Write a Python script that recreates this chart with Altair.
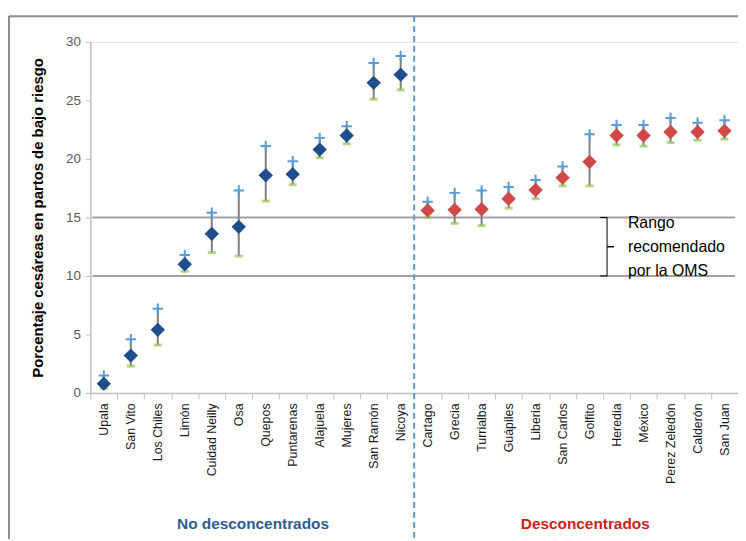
import altair as alt
import pandas as pd

cats_no = ["Upala", "San Vito", "Los Chiles", "Limón", "Cuidad Neilly", "Osa",
           "Quepos", "Puntarenas", "Alajuela", "Mujeres", "San Ramón", "Nicoya"]
val_no = [0.8, 3.2, 5.4, 11.0, 13.6, 14.2, 18.6, 18.7, 20.8, 22.0, 26.5, 27.2]
hi_no = [1.5, 4.6, 7.2, 11.8, 15.4, 17.3, 21.1, 19.8, 21.8, 22.8, 28.2, 28.8]
lo_no = [0.4, 2.3, 4.1, 10.4, 12.0, 11.7, 16.4, 17.8, 20.1, 21.3, 25.1, 25.9]

cats_de = ["Cartago", "Grecia", "Turrialba", "Guápiles", "Liberia", "San Carlos",
           "Golfito", "Heredia", "México", "Perez Zeledón", "Calderón", "San Juan"]
val_de = [15.6, 15.65, 15.7, 16.6, 17.35, 18.4, 19.75, 22.0, 22.0, 22.3, 22.3, 22.4]
hi_de = [16.35, 17.1, 17.3, 17.6, 18.2, 19.35, 22.1, 22.9, 22.9, 23.5, 23.1, 23.3]
lo_de = [15.0, 14.5, 14.3, 15.8, 16.6, 17.7, 17.7, 21.2, 21.1, 21.4, 21.6, 21.7]

group_names = ["No desconcentrados", "Desconcentrados"]
oms_range = [10, 15]
oms_text = ["Rango", "recomendado", "por la OMS"]

cats = cats_no + cats_de
df = pd.DataFrame({
    "cat": cats,
    "val": val_no + val_de,
    "hi": hi_no + hi_de,
    "lo": lo_no + lo_de,
    "grp": [group_names[0]] * len(cats_no) + [group_names[1]] * len(cats_de),
})

FONT = "Liberation Sans"
W, H = 653, 354
LEFT, TOP = 83, 32

x_enc = alt.X("cat:N", sort=cats, title=None,
              scale=alt.Scale(paddingInner=0, paddingOuter=0),
              axis=alt.Axis(labelAngle=-90, labelFontSize=12.5, labelColor="#1a1a1a",
                            labelFont=FONT, tickBand="extent", tickSize=6,
                            tickColor="#bfbfbf", domainColor="#bfbfbf", domainWidth=1.5,
                            labelPadding=4, grid=False))
y_scale = alt.Scale(domain=[0, 30], nice=False)
y_enc = alt.Y("val:Q", scale=y_scale,
              title="Porcentaje cesáreas en partos de bajo riesgo",
              axis=alt.Axis(values=[0, 5, 10, 15, 20, 25, 30], labelFontSize=13.5,
                            labelColor="#595959", labelFont=FONT, tickSize=5,
                            tickColor="#bfbfbf", domainColor="#bfbfbf", domainWidth=1.5,
                            labelPadding=5, grid=False, titleFont=FONT,
                            titleFontSize=15, titleFontWeight="bold",
                            titleColor="#000000", titlePadding=20))

base = alt.Chart(df)
one = base.transform_filter(alt.datum.cat == "Upala")

frame_left = one.mark_rule(color="#8c8c8c", strokeWidth=2).encode(
    x=alt.value(1 - LEFT), y=alt.value(-26), y2=alt.value(640))
frame_top = alt.Chart(pd.DataFrame({"y": [32.2]})).mark_rule(
    color="#8c8c8c", strokeWidth=2).encode(
    y=alt.Y("y:Q", scale=y_scale), x=alt.value(1 - LEFT), x2=alt.value(760))

hlines = alt.Chart(pd.DataFrame({"y": oms_range})).mark_rule(
    color="#a0a0a0", strokeWidth=2).encode(
    y=alt.Y("y:Q", scale=y_scale), x=alt.value(2), x2=alt.value(650))

errs = base.mark_rule(color="#7f7f7f", strokeWidth=2).encode(
    x=x_enc, y=alt.Y("lo:Q", scale=y_scale), y2="hi:Q")

lows = base.mark_tick(color="#92c450", thickness=3, size=8, orient="horizontal").encode(
    x=x_enc, y=alt.Y("lo:Q", scale=y_scale))

highs = base.mark_point(shape="M-1,0L1,0M0,-1L0,1", filled=False, color="#5b9bd5",
                        strokeWidth=2, size=110, opacity=1).encode(
    x=x_enc, y=alt.Y("hi:Q", scale=y_scale))

pts = base.mark_point(shape="diamond", filled=True, size=210, opacity=1).encode(
    x=x_enc, y=y_enc,
    color=alt.Color("grp:N", scale=alt.Scale(domain=group_names,
                                             range=["#1f4e8c", "#d04848"]),
                    legend=None))

divider = base.transform_filter(alt.datum.cat == "Nicoya").mark_rule(
    color="#5b9bd5", strokeWidth=2, strokeDash=[6, 4]).encode(
    x=alt.X("cat:N", sort=cats, bandPosition=1, scale=alt.Scale(paddingInner=0, paddingOuter=0)),
    y=alt.value(-26), y2=alt.value(520))

bx = 521
bracket_v = alt.Chart(pd.DataFrame({"a": [oms_range[0]], "b": [oms_range[1]]})).mark_rule(
    color="#000000", strokeWidth=1).encode(
    x=alt.value(bx), y=alt.Y("a:Q", scale=y_scale), y2="b:Q")
bracket_h = alt.Chart(pd.DataFrame({"y": oms_range})).mark_rule(
    color="#000000", strokeWidth=1).encode(
    x=alt.value(bx - 7), x2=alt.value(bx), y=alt.Y("y:Q", scale=y_scale))
bracket_m = alt.Chart(pd.DataFrame({"y": [sum(oms_range) / 2]})).mark_rule(
    color="#000000", strokeWidth=1.5).encode(
    x=alt.value(bx), x2=alt.value(bx + 7), y=alt.Y("y:Q", scale=y_scale))

oms_label = alt.Chart(pd.DataFrame({"y": [14.5]})).mark_text(
    align="left", baseline="middle", fontSize=16, font=FONT, color="#000000",
    lineHeight=24).encode(
    x=alt.value(542), y=alt.Y("y:Q", scale=y_scale), text=alt.value(oms_text))

grp_df = pd.DataFrame({"g": group_names, "px": [164, 499]})
grp_labels = alt.Chart(grp_df).mark_text(
    align="center", baseline="middle", fontSize=15.5, font=FONT, fontWeight="bold").encode(
    x=alt.X("px:Q", scale=None), y=alt.value(486), text="g:N",
    color=alt.Color("g:N", scale=alt.Scale(domain=group_names,
                                           range=["#2e5c9a", "#d01c1c"]), legend=None))

chart = alt.layer(frame_left, frame_top, hlines, divider, errs, lows, highs, pts,
                  bracket_v, bracket_h, bracket_m, oms_label, grp_labels).resolve_scale(
    color="independent").properties(
    width=W, height=H, autosize="none",
    padding={"left": LEFT, "top": TOP, "right": 0, "bottom": 145},
).configure_view(stroke=None).configure(background="white")

chart.save("out.html", embed_options={"renderer": "svg", "actions": False})
